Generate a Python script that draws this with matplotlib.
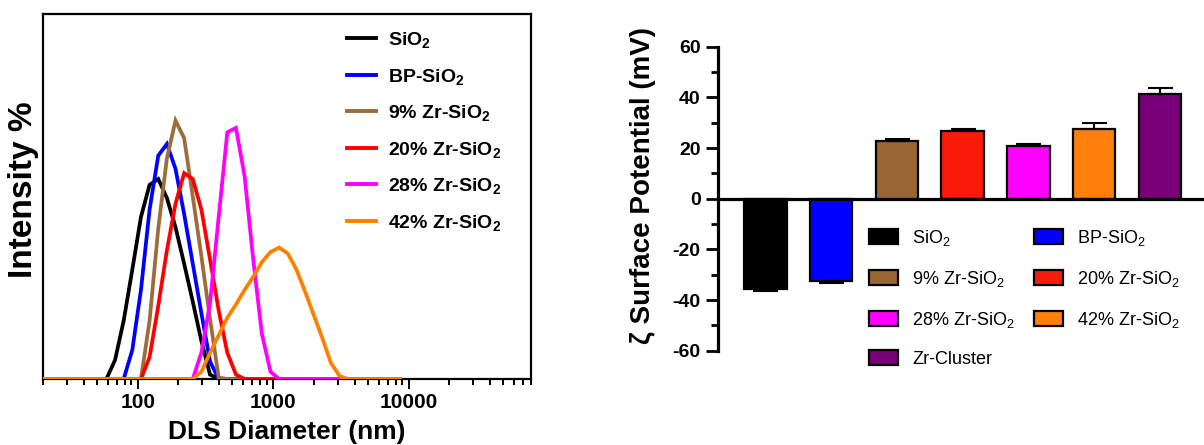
import matplotlib
matplotlib.use('Agg')
import matplotlib.pyplot as plt
from matplotlib.lines import Line2D
from matplotlib.patches import Patch
from matplotlib.ticker import LogLocator, FuncFormatter, MultipleLocator, NullFormatter

plt.rcParams['font.family'] = ['Liberation Sans', 'DejaVu Sans']
plt.rcParams['mathtext.default'] = 'regular'
plt.rcParams['axes.unicode_minus'] = False

# ---- DLS size distribution (intensity %) ----
size_nm = [18.17, 21.04, 24.36, 28.21, 32.67, 37.84, 43.82, 50.75, 58.77, 68.06,
           78.82, 91.28, 105.7, 122.4, 141.8, 164.2, 190.1, 220.2, 255.0, 295.3,
           342.0, 396.1, 458.7, 531.2, 615.1, 712.4, 825.0, 955.4, 1106, 1281,
           1484, 1718, 1990, 2305, 2669, 3091, 3580, 4145, 4801, 5560,
           6439, 7456, 8635]

int_sio2 = [0.0] * 9 + [1.3, 4.0, 7.5, 11.1, 13.3, 13.7, 12.4, 10.4, 7.9, 5.3, 2.6, 0.3] + [0.0] * 22
int_bp = [0.0] * 11 + [2.0, 6.1, 11.6, 15.3, 16.1, 14.4, 11.3, 7.9, 4.5, 1.2] + [0.0] * 22
int_zr9 = [0.0] * 13 + [4.0, 10.3, 15.1, 17.7, 16.5, 12.5, 8.4, 4.1, 0.1] + [0.0] * 21
int_zr20 = [0.0] * 13 + [1.5, 5.0, 8.8, 12.0, 14.1, 13.7, 11.6, 8.2, 4.7, 1.8, 0.3] + [0.0] * 19
int_zr28 = [0.0] * 19 + [1.8, 5.2, 11.1, 16.9, 17.2, 13.9, 8.2, 3.1, 0.5] + [0.0] * 15
int_zr42 = [0.0] * 19 + [0.5, 1.8, 3.0, 4.2, 5.1, 6.1, 7.0, 8.0, 8.7, 9.0, 8.6, 7.5,
                         6.0, 4.4, 2.8, 1.1, 0.2] + [0.0] * 7

dls_labels = ['SiO$_2$', 'BP-SiO$_2$', '9% Zr-SiO$_2$', '20% Zr-SiO$_2$',
              '28% Zr-SiO$_2$', '42% Zr-SiO$_2$']
dls_series = [int_sio2, int_bp, int_zr9, int_zr20, int_zr28, int_zr42]
dls_colors = ['#000000', '#0000FF', '#9E6C3B', '#FF0000', '#FF00FF', '#FF8000']

# ---- zeta potential ----
zeta_labels = ['SiO$_2$', 'BP-SiO$_2$', '9% Zr-SiO$_2$', '20% Zr-SiO$_2$',
               '28% Zr-SiO$_2$', '42% Zr-SiO$_2$', 'Zr-Cluster']
zeta_mean = [-35.7, -32.6, 22.6, 26.6, 20.7, 27.7, 41.4]
zeta_err = [0.9, 0.8, 0.9, 1.0, 0.9, 2.2, 2.2]
bar_colors = ['#000000', '#0000FF', '#996633', '#F91A0A', '#FF00FF', '#FF800A', '#7A007A']

W, H = 1204, 445
fig = plt.figure(figsize=(W / 100, H / 100), dpi=100)

# ------------------------------------------------------------------
# left: DLS
# ------------------------------------------------------------------
ax1 = fig.add_axes([43 / W, 1 - 379 / H, (531 - 43) / W, (379 - 14) / H])
for i in reversed(range(len(dls_series))):
    ax1.plot(size_nm, dls_series[i], color=dls_colors[i], lw=2.7,
             solid_joinstyle='miter', zorder=3 + i)
ax1.set_xscale('log')
ax1.set_xlim(20, 80000)
ax1.set_ylim(0, 25)
ax1.set_yticks([])
ax1.xaxis.set_major_locator(LogLocator(base=10, numticks=10))
ax1.xaxis.set_minor_locator(LogLocator(base=10, subs=range(2, 10), numticks=20))
ax1.xaxis.set_major_formatter(FuncFormatter(lambda v, p: f'{v:g}'))
ax1.xaxis.set_minor_formatter(NullFormatter())
ax1.tick_params(axis='x', which='major', length=7, width=1.4, pad=3, labelsize=15)
ax1.tick_params(axis='x', which='minor', length=4, width=1.4)
for lab in ax1.get_xticklabels():
    lab.set_fontweight('bold')
for s in ax1.spines.values():
    s.set_linewidth(1.6)
ax1.set_xlabel('DLS Diameter (nm)', fontsize=19, fontweight='bold')
ax1.xaxis.set_label_coords(0.5, -0.112)
ax1.set_ylabel('Intensity %', fontsize=24, fontweight='bold')
ax1.yaxis.set_label_coords(-0.008, 0.52)

handles = [Line2D([], [], color=c, lw=2.8) for c in dls_colors]
ax1.legend(handles, dls_labels, loc='upper left', bbox_to_anchor=(347 / W, 1 - 30 / H),
           bbox_transform=fig.transFigure, frameon=False, borderpad=0, borderaxespad=0,
           handlelength=1.5, handletextpad=0.62, labelspacing=0.85,
           prop={'size': 14, 'weight': 'bold'})

# ------------------------------------------------------------------
# right: zeta potential
# ------------------------------------------------------------------
ax2 = fig.add_axes([718 / W, 1 - 350.7 / H, (W - 718) / W, 304 / H])
xpos = list(range(len(zeta_mean)))
ax2.bar(xpos, zeta_mean, width=0.645, color=bar_colors, edgecolor='black',
        linewidth=1.6, zorder=2)
lower = [e if m < 0 else 0 for m, e in zip(zeta_mean, zeta_err)]
upper = [e if m > 0 else 0 for m, e in zip(zeta_mean, zeta_err)]
ax2.errorbar(xpos, zeta_mean, yerr=[lower, upper], fmt='none', ecolor='black',
             elinewidth=1.5, capsize=9, capthick=1.5, zorder=3)
ax2.set_xlim(-0.72, 6.67)
ax2.set_ylim(-60, 60)
ax2.set_yticks([-60, -40, -20, 0, 20, 40, 60])
ax2.yaxis.set_minor_locator(MultipleLocator(10))
ax2.set_xticks([])
ax2.spines['top'].set_visible(False)
ax2.spines['right'].set_visible(False)
ax2.spines['bottom'].set_position(('data', 0))
ax2.spines['bottom'].set_linewidth(2.3)
ax2.spines['bottom'].set_zorder(4)
ax2.spines['left'].set_linewidth(2.3)
ax2.tick_params(axis='y', which='major', length=8.5, width=2, pad=4, labelsize=14)
ax2.tick_params(axis='y', which='minor', length=5, width=2)
for lab in ax2.get_yticklabels():
    lab.set_fontweight('bold')
ax2.set_ylabel('ζ Surface Potential (mV)', fontsize=20, fontweight='bold')
ax2.yaxis.set_label_coords(-0.128, 0.545)

order = [0, 2, 4, 6, 1, 3, 5]
patches = [Patch(facecolor=bar_colors[i], edgecolor='black', linewidth=1.6) for i in order]
ax2.legend(patches, [zeta_labels[i] for i in order], ncol=2, loc='upper left',
           bbox_to_anchor=(869 / W, 1 - 228 / H), bbox_transform=fig.transFigure,
           frameon=False, borderpad=0, borderaxespad=0, handlelength=1.6,
           handleheight=0.9, handletextpad=0.8, labelspacing=1.15,
           columnspacing=1.05, prop={'size': 13})

fig.savefig('out.png', dpi=100)
